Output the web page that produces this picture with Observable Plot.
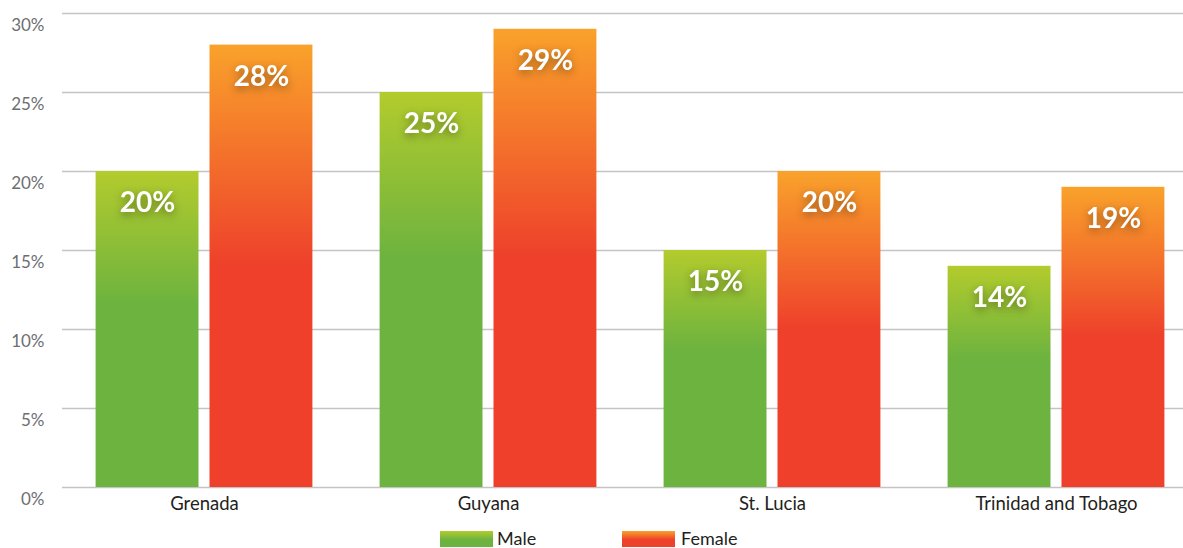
<!DOCTYPE html>
<html>
<head>
<meta charset="utf-8">
<script src="https://cdn.jsdelivr.net/npm/d3@7"></script>
<script src="https://cdn.jsdelivr.net/npm/@observablehq/plot@0.6"></script>
<style>
  html, body { margin: 0; padding: 0; background: #fff; overflow: hidden; }
  #chart svg { display: block; }
  #legend { position: relative; height: 28px; font-family: Lato, "Open Sans", sans-serif; font-size: 18px; color: #231f20; }
  .sw { position: absolute; top: 11px; width: 53px; height: 16px; }
  .lb { position: absolute; top: 7px; line-height: 22px; }
</style>
</head>
<body>
<div id="chart"></div>
<div id="legend">
  <div class="sw" style="left:440px;background:linear-gradient(#b3cb2d 0%, #6db33f 55%, #6db33f 100%);"></div>
  <div class="lb" style="left:497px;">Male</div>
  <div class="sw" style="left:622px;background:linear-gradient(#f9a22b 0%, #ee402b 55%, #ee402b 100%);"></div>
  <div class="lb" style="left:681px;">Female</div>
</div>
<script>
const countries = ["Grenada", "Guyana", "St. Lucia", "Trinidad and Tobago"];
const sexes = ["Male", "Female"];
const maleValues = [20, 25, 15, 14];
const femaleValues = [28, 29, 20, 19];
const yTicks = [0, 5, 10, 15, 20, 25, 30];

const data = [];
countries.forEach((c, i) => {
  data.push({country: c, sex: "Male", value: maleValues[i]});
  data.push({country: c, sex: "Female", value: femaleValues[i]});
});

const plot = Plot.plot({
  width: 1183,
  height: 520,
  marginTop: 13,
  marginBottom: 33,
  marginLeft: 62,
  marginRight: -15,
  style: {fontFamily: "Lato, 'Open Sans', sans-serif", background: "#fff"},
  fx: {domain: countries, padding: 0, round: false, label: null},
  x: {domain: sexes, paddingInner: 0.0965, paddingOuter: 0.295, round: false, axis: null},
  y: {domain: [0, 30], axis: null},
  marks: [
    Plot.gridY(yTicks, {stroke: "#c4c4c4", strokeOpacity: 1, strokeWidth: 1.5}),
    Plot.barY(data.filter(d => d.sex === "Male"), {fx: "country", x: "sex", y: "value", fill: "url(#gradMale)"}),
    Plot.barY(data.filter(d => d.sex === "Female"), {fx: "country", x: "sex", y: "value", fill: "url(#gradFemale)"}),
    Plot.text(data, {fx: "country", x: "sex", y: "value", text: d => d.value + "%", dy: 32, fill: "#fff",
      fontSize: 28, fontWeight: 700, lineAnchor: "middle", className: "barlabel"}),
    Plot.axisY(yTicks, {anchor: "left", tickSize: 0, tickPadding: 18, dy: 12, tickFormat: d => d + "%",
      fontSize: 17, fill: "#6d6e71", label: null}),
    Plot.axisFx({anchor: "bottom", tickSize: 0, tickPadding: 9, fontSize: 18.5, fill: "#231f20", label: null})
  ]
});

const svg = d3.select(plot);
const defs = svg.insert("defs", ":first-child");
function grad(id, top, bottom, stop) {
  const g = defs.append("linearGradient").attr("id", id).attr("x1", 0).attr("y1", 0).attr("x2", 0).attr("y2", 1);
  g.append("stop").attr("offset", 0).attr("stop-color", top);
  g.append("stop").attr("offset", stop).attr("stop-color", bottom);
  g.append("stop").attr("offset", 1).attr("stop-color", bottom);
}
grad("gradMale", "#b3cb2d", "#6db33f", 0.42);
grad("gradFemale", "#f9a22b", "#ee402b", 0.5);
svg.selectAll(".barlabel text, text.barlabel, g.barlabel text").style("filter", "drop-shadow(0px 3px 4px rgba(0,0,0,0.4))");

document.getElementById("chart").appendChild(plot);
</script>
</body>
</html>
